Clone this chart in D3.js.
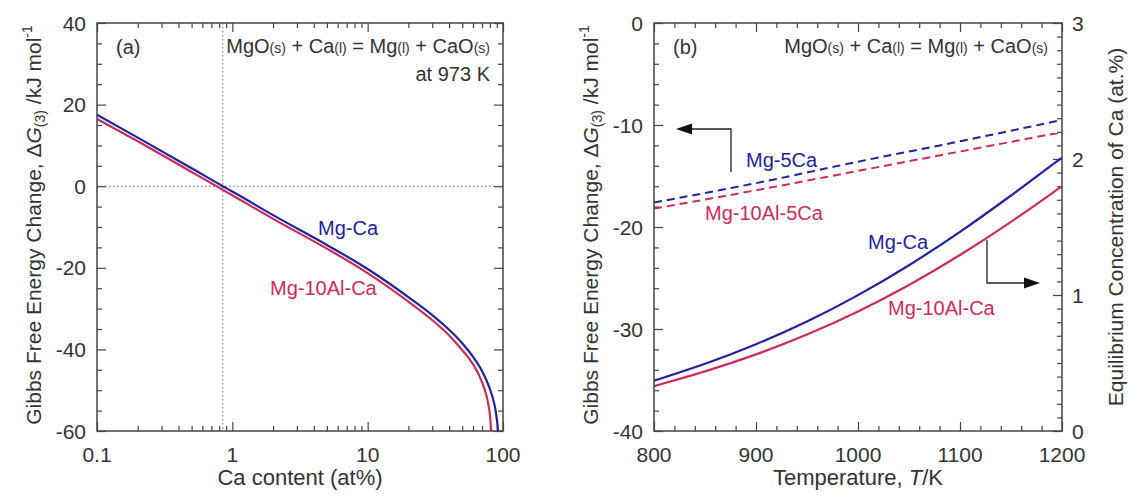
<!DOCTYPE html>
<html><head><meta charset="utf-8">
<script src="https://cdn.jsdelivr.net/npm/d3@7/dist/d3.min.js"></script>
<style>
body{margin:0;background:#fff;}
svg{display:block;font-family:"Liberation Sans",Arial,sans-serif;}
</style></head>
<body><svg id="c" width="1130" height="496"></svg>
<script>
// ---------- data: panel (a) ----------
const mgCaX   = [0.1, 0.2, 0.5, 0.85, 1, 2, 5, 10, 20, 30, 40, 50, 60, 70, 80, 85, 88, 90, 92];
const mgCaG   = [17.5, 11.9, 4.4, 0, -1.3, -7.1, -14.4, -20.3, -27.2, -31.6, -35.2, -38.5, -41.8, -45.3, -49.7, -52.5, -54.8, -57, -60];
const mgAlCaX = [0.1, 0.2, 0.5, 1, 2, 5, 10, 20, 30, 40, 50, 60, 70, 75, 78, 80, 81, 82];
const mgAlCaG = [16.5, 11.0, 3.5, -2.2, -8.0, -15.3, -21.3, -28.3, -32.8, -36.6, -40.2, -43.6, -48.0, -51.0, -53.5, -56.0, -58.0, -60];
const zeroCrossCa = 0.85;
const aXTicksMajor = [0.1, 1, 10, 100];
const aXTickLabels = ["0.1", "1", "10", "100"];
const aYTicksMajor = [-60, -40, -20, 0, 20, 40];

// ---------- data: panel (b) ----------
const tempsDashed = [800, 900, 1000, 1100, 1200];
const mg5CaG      = [-17.6, -15.7, -13.6, -11.6, -9.5];
const mgAl5CaG    = [-18.2, -16.4, -14.5, -12.6, -10.7];
const tempsSolid  = [800, 850, 900, 950, 1000, 1050, 1100, 1150, 1200];
const mgCaConc    = [0.37, 0.49, 0.635, 0.80, 0.995, 1.215, 1.46, 1.73, 2.01];
const mgAlCaConc  = [0.33, 0.435, 0.56, 0.705, 0.875, 1.07, 1.29, 1.535, 1.80];
const bXTicksMajor = [800, 900, 1000, 1100, 1200];
const bYTicksMajor = [-40, -30, -20, -10, 0];
const bY2TicksMajor = [0, 1, 2, 3];

const BLUE = "#22229c", RED = "#cc2c5c", INK = "#333", AX = "#444";
const svg = d3.select("#c");

// ---------- scales ----------
const ax = d3.scaleLog().domain([0.1, 100]).range([97, 503]);
const ay = d3.scaleLinear().domain([-60, 40]).range([431, 23]);
const bx = d3.scaleLinear().domain([800, 1200]).range([654, 1062]);
const by = d3.scaleLinear().domain([-40, 0]).range([431, 23]);
const by2 = d3.scaleLinear().domain([0, 3]).range([431, 23]);

function axisSet(g, axisFn, scale, major, minor, pos, isX){
  const mk = (vals, len) => {
    const a = axisFn(scale).tickValues(vals).tickSize(-len).tickFormat("");
    const gg = g.append("g").attr("transform", isX ? `translate(0,${pos})` : `translate(${pos},0)`).call(a);
    gg.select(".domain").remove();
    gg.selectAll("line").attr("stroke", AX).attr("stroke-width", 1.2);
  };
  mk(minor, 5); mk(major, 9);
}
function frame(x0,x1,y0,y1){
  svg.append("rect").attr("x",x0).attr("y",y0).attr("width",x1-x0).attr("height",y1-y0)
    .attr("fill","none").attr("stroke",AX).attr("stroke-width",1.5);
}

// ================= Panel (a) =================
const ga = svg.append("g");
const aMinorX = [];
[0.1,1,10].forEach(d => { for (let k=2;k<=9;k++) aMinorX.push(d*k); });
const aMinorY = d3.range(-60, 40.1, 5).filter(v => v % 20 !== 0);
axisSet(ga, d3.axisBottom, ax, aXTicksMajor, aMinorX, 431, true);
axisSet(ga, d3.axisTop, ax, aXTicksMajor, aMinorX, 23, true);
axisSet(ga, d3.axisLeft, ay, aYTicksMajor, aMinorY, 97, false);
axisSet(ga, d3.axisRight, ay, aYTicksMajor, aMinorY, 503, false);

// dotted guide lines
ga.append("line").attr("x1", ax(0.1)).attr("x2", ax(100)).attr("y1", ay(0)).attr("y2", ay(0))
  .attr("stroke","#666").attr("stroke-width",1).attr("stroke-dasharray","1.5,2.5");
ga.append("line").attr("x1", ax(zeroCrossCa)).attr("x2", ax(zeroCrossCa)).attr("y1", ay(40)).attr("y2", ay(-60))
  .attr("stroke","#666").attr("stroke-width",1).attr("stroke-dasharray","1.5,2.5");

svg.append("clipPath").attr("id","clipA").append("rect").attr("x",97).attr("y",23).attr("width",406).attr("height",408);
svg.append("clipPath").attr("id","clipB").append("rect").attr("x",654).attr("y",23).attr("width",408).attr("height",408);

const lineA = d3.line().curve(d3.curveMonotoneX).x(d => ax(d[0])).y(d => ay(d[1]));
ga.append("path").datum(d3.zip(mgAlCaX, mgAlCaG)).attr("d", lineA).attr("clip-path","url(#clipA)")
  .attr("fill","none").attr("stroke",RED).attr("stroke-width",2.2);
ga.append("path").datum(d3.zip(mgCaX, mgCaG)).attr("d", lineA).attr("clip-path","url(#clipA)")
  .attr("fill","none").attr("stroke",BLUE).attr("stroke-width",2.2);
frame(97,503,23,431);

// tick labels
ga.selectAll(".axl").data(aXTicksMajor).enter().append("text")
  .attr("x", d => ax(d)).attr("y", 462).attr("text-anchor","middle").attr("font-size",21).attr("fill",INK)
  .text((d,i) => aXTickLabels[i]);
ga.selectAll(".ayl").data(aYTicksMajor).enter().append("text")
  .attr("x", 86).attr("y", d => ay(d) + 7.5).attr("text-anchor","end").attr("font-size",21).attr("fill",INK)
  .text(d => d);
ga.append("text").attr("x", 300).attr("y", 485).attr("text-anchor","middle").attr("font-size",22).attr("fill",INK)
  .text("Ca content (at%)");

function yTitle(x, y){
  const t = svg.append("text").attr("transform",`translate(${x},${y}) rotate(-90)`)
    .attr("text-anchor","middle").attr("font-size",21).attr("fill",INK);
  t.append("tspan").text("Gibbs Free Energy Change, Δ");
  t.append("tspan").attr("font-style","italic").text("G");
  t.append("tspan").attr("font-size",14).attr("baseline-shift","-30%").text("(3)");
  t.append("tspan").text(" /kJ mol");
  t.append("tspan").attr("font-size",14).attr("baseline-shift","65%").text("-1");
}
yTitle(41, 225);

function eq(x, y){
  const t = svg.append("text").attr("x",x).attr("y",y).attr("text-anchor","end").attr("font-size",20).attr("fill",INK);
  const parts = [["MgO",0],["(s)",1],[" + Ca",0],["(l)",1],[" = Mg",0],["(l)",1],[" + CaO",0],["(s)",1]];
  parts.forEach(p => { const s = t.append("tspan").text(p[0]); if (p[1]) s.attr("font-size",14); });
}
eq(490, 53);
svg.append("text").attr("x",490).attr("y",81).attr("text-anchor","end").attr("font-size",20).attr("fill",INK).text("at 973 K");
svg.append("text").attr("x",116).attr("y",54).attr("font-size",20).attr("fill",INK).text("(a)");
svg.append("text").attr("x",318).attr("y",235).attr("font-size",20).attr("fill",BLUE).text("Mg-Ca");
svg.append("text").attr("x",270).attr("y",295).attr("font-size",20).attr("fill",RED).text("Mg-10Al-Ca");

// ================= Panel (b) =================
const gb = svg.append("g");
const bMinorX = d3.range(800, 1200.1, 20).filter(v => v % 100 !== 0);
const bMinorY = d3.range(-40, 0.1, 2).filter(v => v % 10 !== 0);
const bMinorY2 = d3.range(0, 30.1, 1).filter(v => v % 10 !== 0).map(v => v/10);
axisSet(gb, d3.axisBottom, bx, bXTicksMajor, bMinorX, 431, true);
axisSet(gb, d3.axisTop, bx, bXTicksMajor, bMinorX, 23, true);
axisSet(gb, d3.axisLeft, by, bYTicksMajor, bMinorY, 654, false);
axisSet(gb, d3.axisRight, by2, bY2TicksMajor, bMinorY2, 1062, false);

const lineB = d3.line().curve(d3.curveMonotoneX).x(d => bx(d[0])).y(d => by(d[1]));
const lineB2 = d3.line().curve(d3.curveBasis).x(d => bx(d[0])).y(d => by2(d[1]));
gb.append("path").datum(d3.zip(tempsDashed, mgAl5CaG)).attr("d", lineB).attr("clip-path","url(#clipB)")
  .attr("fill","none").attr("stroke",RED).attr("stroke-width",2).attr("stroke-dasharray","8,5");
gb.append("path").datum(d3.zip(tempsDashed, mg5CaG)).attr("d", lineB).attr("clip-path","url(#clipB)")
  .attr("fill","none").attr("stroke",BLUE).attr("stroke-width",2).attr("stroke-dasharray","8,5");
gb.append("path").datum(d3.zip(tempsSolid, mgAlCaConc)).attr("d", lineB2).attr("clip-path","url(#clipB)")
  .attr("fill","none").attr("stroke",RED).attr("stroke-width",2.2);
gb.append("path").datum(d3.zip(tempsSolid, mgCaConc)).attr("d", lineB2).attr("clip-path","url(#clipB)")
  .attr("fill","none").attr("stroke",BLUE).attr("stroke-width",2.2);
frame(654,1062,23,431);

gb.selectAll(".bxl").data(bXTicksMajor).enter().append("text")
  .attr("x", d => bx(d)).attr("y", 462).attr("text-anchor","middle").attr("font-size",21).attr("fill",INK).text(d => d);
gb.selectAll(".byl").data(bYTicksMajor).enter().append("text")
  .attr("x", 643).attr("y", d => by(d) + 7.5).attr("text-anchor","end").attr("font-size",21).attr("fill",INK).text(d => d);
gb.selectAll(".by2l").data(bY2TicksMajor).enter().append("text")
  .attr("x", 1072).attr("y", d => by2(d) + 7.5).attr("text-anchor","start").attr("font-size",21).attr("fill",INK).text(d => d);
const tt = gb.append("text").attr("x", 858).attr("y", 485).attr("text-anchor","middle").attr("font-size",22).attr("fill",INK);
tt.append("tspan").text("Temperature, ");
tt.append("tspan").attr("font-style","italic").text("T");
tt.append("tspan").text("/K");
yTitle(598, 225);
svg.append("text").attr("transform","translate(1123,227) rotate(-90)").attr("text-anchor","middle")
  .attr("font-size",21).attr("fill",INK).text("Equilibrium Concentration of Ca (at.%)");

eq(1048, 53);
svg.append("text").attr("x",673).attr("y",54).attr("font-size",20).attr("fill",INK).text("(b)");
svg.append("text").attr("x",746).attr("y",167).attr("font-size",20).attr("fill",BLUE).text("Mg-5Ca");
svg.append("text").attr("x",705).attr("y",220).attr("font-size",20).attr("fill",RED).text("Mg-10Al-5Ca");
svg.append("text").attr("x",868).attr("y",249).attr("font-size",20).attr("fill",BLUE).text("Mg-Ca");
svg.append("text").attr("x",888).attr("y",315).attr("font-size",20).attr("fill",RED).text("Mg-10Al-Ca");

// arrows
function arrow(pts, tip, dir){
  svg.append("polyline").attr("points", pts.map(p => p.join(",")).join(" "))
    .attr("fill","none").attr("stroke","#222").attr("stroke-width",1.3);
  const L = 16, W = 5.5;
  const [tx, ty] = tip;
  const bxp = tx - dir*L;
  svg.append("polygon").attr("points", `${tx},${ty} ${bxp},${ty-W} ${bxp},${ty+W}`).attr("fill","#111");
}
arrow([[731,172],[731,129],[690,129]], [676,129], -1);
arrow([[987,240],[987,283],[1025,283]], [1040,283], 1);
</script></body></html>
